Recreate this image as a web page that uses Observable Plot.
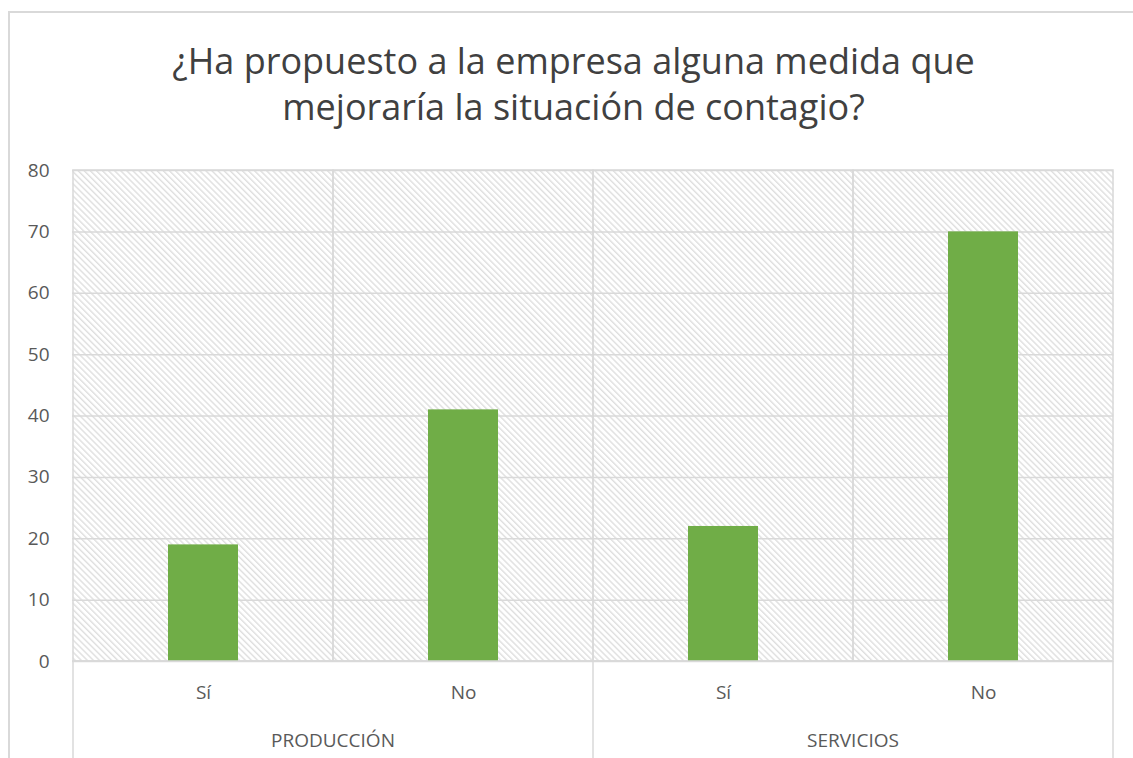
<!DOCTYPE html>
<html><head><meta charset="utf-8">
<script src="https://cdn.jsdelivr.net/npm/d3@7"></script>
<script src="https://cdn.jsdelivr.net/npm/@observablehq/plot@0.6"></script>
<style>
body{margin:0;background:#fff;overflow:hidden}
#wrap{position:relative;width:1133px;height:758px;font-family:"Open Sans",sans-serif;overflow:hidden}
#border{position:absolute;left:8px;top:11px;width:1300px;height:900px;border-left:2px solid #d9d9d9;border-top:2px solid #d9d9d9}
#title{position:absolute;left:0;width:1147px;top:38px;text-align:center;font-size:36px;line-height:46px;color:#404040;white-space:nowrap}
#chart{position:absolute;left:0;top:0}
</style></head><body>
<div id="wrap"><div id="border"></div>
<div id="title">¿Ha propuesto a la empresa alguna medida que<br>mejoraría la situación de contagio?</div>
<div id="chart"></div></div>
<script>
const groups = ["PRODUCCIÓN", "PRODUCCIÓN", "SERVICIOS", "SERVICIOS"];
const answers = ["Sí", "No", "Sí", "No"];
const values = [19, 41, 22, 70];
const yTicks = [0, 10, 20, 30, 40, 50, 60, 70, 80];
const groupNames = ["PRODUCCIÓN", "SERVICIOS"];

const keys = groups.map((g, i) => g + "|" + answers[i]);
const data = keys.map((k, i) => ({key: k, group: groups[i], answer: answers[i], value: values[i]}));
const yMax = yTicks[yTicks.length - 1];

const chart = Plot.plot({
  width: 1133, height: 758,
  marginTop: 170, marginBottom: 97, marginLeft: 72, marginRight: 20,
  style: {fontFamily: "'Open Sans', sans-serif", fontSize: "19px", color: "#595959", background: "transparent", overflow: "visible"},
  x: {domain: keys, padding: 0, axis: null, label: null},
  y: {domain: [0, yMax], axis: null, label: null},
  marks: [
    Plot.frame({fill: "url(#hatch)", stroke: "none"}),
    Plot.gridY(yTicks, {stroke: "#d9d9d9", strokeOpacity: 1, strokeWidth: 1.5}),
    Plot.barY(data, {x: "key", y1: 0, y2: yMax, fill: "none", stroke: "#d9d9d9", strokeWidth: 1.5}),
    Plot.barY(data, {x: "key", y: "value", fill: "#70ad47", insetLeft: 95, insetRight: 95}),
    Plot.axisY(yTicks, {tickSize: 0, tickPadding: 23, fill: "#595959", fontSize: 19, label: null}),
    Plot.axisX({tickSize: 0, tickPadding: 24, fill: "#595959", fontSize: 19, label: null, tickFormat: k => k.split("|")[1]})
  ]
});
document.getElementById("chart").appendChild(chart);

const svg = d3.select(chart);
const defs = svg.insert("defs", ":first-child");
const pat = defs.append("pattern").attr("id", "hatch").attr("patternUnits", "userSpaceOnUse")
  .attr("width", 4.3).attr("height", 4.3).attr("patternTransform", "rotate(45)");
pat.append("rect").attr("width", 4.3).attr("height", 4.3).attr("fill", "#ffffff");
pat.append("line").attr("x1", 0).attr("y1", 1).attr("x2", 4.3).attr("y2", 1)
  .attr("stroke", "#dcdcdc").attr("stroke-width", 1.3);

const xs = chart.scale("x");
const ys = chart.scale("y");
const y0 = ys.apply(0);
const bw = xs.bandwidth;
const bounds = [];
groupNames.forEach(g => {
  const ks = keys.filter((k, i) => groups[i] === g);
  const left = xs.apply(ks[0]);
  const right = xs.apply(ks[ks.length - 1]) + bw;
  bounds.push(left, right);
  svg.append("text").attr("x", (left + right) / 2).attr("y", y0 + 86)
    .attr("text-anchor", "middle").attr("fill", "#595959")
    .attr("font-family", "'Open Sans', sans-serif").attr("font-size", 19).text(g);
});
Array.from(new Set(bounds.map(b => Math.round(b * 10) / 10))).forEach(bx => {
  svg.append("line").attr("x1", bx).attr("x2", bx).attr("y1", y0).attr("y2", 758)
    .attr("stroke", "#d9d9d9").attr("stroke-width", 1.5);
});
svg.append("line").attr("x1", xs.range[0]).attr("x2", xs.range[1]).attr("y1", y0).attr("y2", y0)
  .attr("stroke", "#d9d9d9").attr("stroke-width", 1.5);
</script>
</body></html>
